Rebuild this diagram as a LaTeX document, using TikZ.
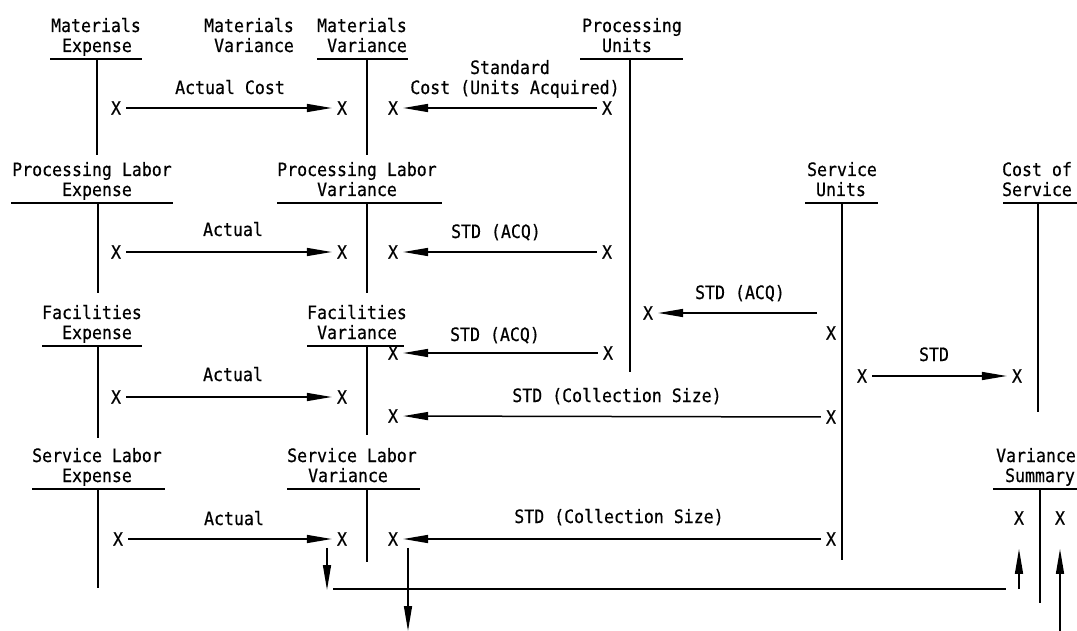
\documentclass[tikz,border=0pt]{standalone}
\usepackage{fontspec}
\setmainfont[FakeStretch=0.9,FakeBold=0.5]{DejaVu Sans Mono}
\usetikzlibrary{arrows.meta}
\begin{document}
\begin{tikzpicture}[x=1pt,y=-1pt,
  every node/.style={font=\fontsize{18.4}{20}\selectfont},
  tl/.style={anchor=base, inner sep=0pt},
  lbl/.style={anchor=base, inner sep=0pt},
  xm/.style={inner xsep=5pt, inner ysep=2pt},
  acct/.style={line width=1.6pt},
  ln/.style={line width=1.5pt},
  arr/.style={line width=1.5pt, -{Triangle[length=25pt,width=8pt]}}]
\useasboundingbox (0,0) rectangle (1077,631);

% ---------- T accounts ----------
% Materials Expense
\node[tl] (meA) at (96,32) {Materials};
\node[tl] (meB) at (97,52) {Expense};
\draw[acct] (50,59) -- (142,59) (97,59) -- (97,155);
% Materials Variance (label only)
\node[tl] (mlA) at (249,32) {Materials};
\node[tl] (mlB) at (254,52) {Variance};
% Materials Variance
\node[tl] (mvA) at (362,32) {Materials};
\node[tl] (mvB) at (367,52) {Variance};
\draw[acct] (317,59) -- (408,59) (367,59) -- (367,155);
% Processing Units
\node[tl] (puA) at (632,32) {Processing};
\node[tl] (puB) at (627,52) {Units};
\draw[acct] (580,59) -- (683,59) (630,59) -- (630,372);
% Processing Labor Expense
\node[tl] (pleA) at (92,176) {Processing Labor};
\node[tl] (pleB) at (97,196) {Expense};
\draw[acct] (11,203) -- (173,203) (98,203) -- (98,293);
% Processing Labor Variance
\node[tl] (plvA) at (357,176) {Processing Labor};
\node[tl] (plvB) at (357,196) {Variance};
\draw[acct] (277,203) -- (442,203) (367,203) -- (367,293);
% Service Units
\node[tl] (suA) at (842,176) {Service};
\node[tl] (suB) at (841,196) {Units};
\draw[acct] (805,203) -- (878,203) (842,203) -- (842,560);
% Cost of Service
\node[tl] (csA) at (1037,176) {Cost of};
\node[tl] (csB) at (1037,196) {Service};
\draw[acct] (1003,203) -- (1077,203) (1038,203) -- (1038,412);
% Facilities Expense
\node[tl] (feA) at (92,319) {Facilities};
\node[tl] (feB) at (97,339) {Expense};
\draw[acct] (42,346) -- (142,346) (98,346) -- (98,438);
% Facilities Variance
\node[tl] (fvA) at (357,319) {Facilities};
\node[tl] (fvB) at (357,339) {Variance};
\draw[acct] (307,346) -- (404,346) (367,346) -- (367,435);
% Service Labor Expense
\node[tl] (sleA) at (97,462) {Service Labor};
\node[tl] (sleB) at (97,482) {Expense};
\draw[acct] (32,489) -- (165,489) (98,489) -- (98,588);
% Service Labor Variance
\node[tl] (slvA) at (352,462) {Service Labor};
\node[tl] (slvB) at (348,482) {Variance};
\draw[acct] (287,489) -- (420,489) (367,489) -- (367,562);
% Variance Summary
\node[tl] (vsA) at (1036,462) {Variance};
\node[tl] (vsB) at (1040,482) {Summary};
\draw[acct] (993,489) -- (1077,489) (1040,489) -- (1040,603);

% ---------- entries ----------
\node[xm] (a1) at (116,108) {X};
\node[xm] (b1) at (342,108) {X};
\node[xm] (c1) at (393,108) {X};
\node[xm] (d1) at (607,108) {X};
\node[xm] (a2) at (116,252) {X};
\node[xm] (b2) at (342,252) {X};
\node[xm] (c2) at (393,252) {X};
\node[xm] (d2) at (607,252) {X};
\node[xm] (pux) at (648,313) {X};
\node[xm] (su1) at (831,333) {X};
\node[xm] (c3) at (393,353) {X};
\node[xm] (d3) at (608,353) {X};
\node[xm] (a3) at (116,397) {X};
\node[xm] (b3) at (342,397) {X};
\node[xm] (s1) at (862,376) {X};
\node[xm] (s2) at (1017,376) {X};
\node[xm] (c3b) at (393,416) {X};
\node[xm] (su2) at (831,417) {X};
\node[xm] (a4) at (118,539) {X};
\node[xm] (b4) at (342,539) {X};
\node[xm] (c4) at (393,539) {X};
\node[xm] (su3) at (831,539) {X};
\node[xm] (v1) at (1019,518) {X};
\node[xm] (v2) at (1060,518) {X};

% ---------- labels ----------
\node[lbl] (l1) at (230,94) {Actual Cost};
\node[lbl] (l2a) at (510,74) {Standard};
\node[lbl] (l2b) at (515,94) {Cost (Units Acquired)};
\node[lbl] (l3) at (233,236) {Actual};
\node[lbl] (l4) at (496,238) {STD (ACQ)};
\node[lbl] (l5) at (740,299) {STD (ACQ)};
\node[lbl] (l6) at (495,341) {STD (ACQ)};
\node[lbl] (l7) at (233,381) {Actual};
\node[lbl] (l8) at (934,361) {STD};
\node[lbl] (l9) at (617,402) {STD (Collection Size)};
\node[lbl] (l10) at (234,525) {Actual};
\node[lbl] (l11) at (619,523) {STD (Collection Size)};

% ---------- connectors ----------
\draw[arr] (a1) -- (b1);
\draw[arr] (d1) -- (c1);
\draw[arr] (a2) -- (b2);
\draw[arr] (d2) -- (c2);
\coordinate (su1s) at (817,313);
\draw[arr] (su1s) -- (pux);
\draw[arr] (d3) -- (c3);
\draw[arr] (a3) -- (b3);
\draw[arr] (s1) -- (s2);
\draw[arr] (su2) -- (c3b);
\draw[arr] (a4) -- (b4);
\draw[arr] (su3) -- (c4);

\coordinate (dn1) at (327,590);
\draw[arr] (dn1 |- b4.south) -- (dn1);
\coordinate (h1s) at (333,589);
\coordinate (h1e) at (1006,589);
\draw[ln] (h1s) -- (h1e);
\coordinate (up1) at (1019,589);
\draw[arr, shorten >=22pt] (up1) -- (v1.south);

\coordinate (dn2) at (408,631);
\draw[arr] (dn2 |- c4.south) -- (dn2);
\coordinate (up2) at (1060,631);
\draw[arr, shorten >=22pt] (up2) -- (v2.south);
\end{tikzpicture}
\end{document}
